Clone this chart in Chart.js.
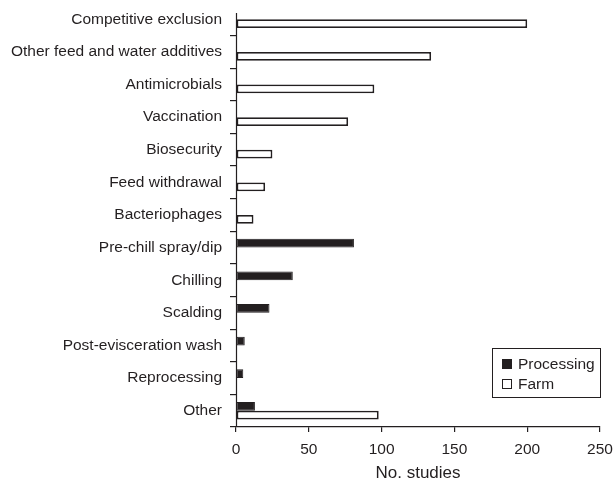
<!DOCTYPE html>
<html>
<head>
<meta charset="utf-8">
<script src="https://cdn.jsdelivr.net/npm/chart.js@4/dist/chart.umd.min.js"></script>
<style>
  html, body { margin: 0; padding: 0; background: #fff; }
  #wrap { width: 613px; height: 480px; }
</style>
</head>
<body>
<div id="wrap"><canvas id="c"></canvas></div>
<script>
var categories = [
  'Competitive exclusion', 'Other feed and water additives', 'Antimicrobials',
  'Vaccination', 'Biosecurity', 'Feed withdrawal', 'Bacteriophages',
  'Pre-chill spray/dip', 'Chilling', 'Scalding', 'Post-evisceration wash',
  'Reprocessing', 'Other'
];
var processing = [null, null, null, null, null, null, null, 81, 39, 23, 6, 5, 13];
var farm = [200, 134, 95, 77, 25, 20, 12, null, null, null, null, null, 98];
var xMin = 0, xMax = 250, xStep = 50;

var ink = '#231f20';
Chart.defaults.font.family = '"Liberation Sans", Arial, sans-serif';
Chart.defaults.color = ink;

// legend drawn inside the plot, bottom right, with a frame; also the shortened y axis line
var boxLegend = {
  id: 'boxLegend',
  afterDraw: function (chart) {
    var ctx = chart.ctx, area = chart.chartArea;
    ctx.save();
    ctx.strokeStyle = ink;
    ctx.lineWidth = 1.2;
    var ax = Math.round(area.left) + 0.5;
    ctx.beginPath();
    ctx.moveTo(ax, area.top + 10);
    ctx.lineTo(ax, area.bottom);
    ctx.stroke();

    ctx.lineWidth = 1;
    var w = 108, h = 49;
    var x = Math.round(area.right - w), y = Math.round(area.bottom - 30 - h);
    ctx.strokeRect(x + 0.5, y + 0.5, w, h);
    ctx.font = '15.5px "Liberation Sans", Arial, sans-serif';
    ctx.textBaseline = 'middle';
    chart.data.datasets.forEach(function (ds, i) {
      var cy = y + 16 + i * 20;
      ctx.fillStyle = ds.backgroundColor;
      ctx.fillRect(x + 10, cy - 5, 10, 10);
      ctx.strokeStyle = ink;
      ctx.strokeRect(x + 10.5, cy - 4.5, 9, 9);
      ctx.fillStyle = ink;
      ctx.fillText(ds.label, x + 26, cy + 1);
    });
    ctx.restore();
  }
};

new Chart(document.getElementById('c'), {
  type: 'bar',
  data: {
    labels: categories,
    datasets: [
      { label: 'Processing', data: processing, backgroundColor: ink, borderColor: ink, borderWidth: 1, borderSkipped: false },
      { label: 'Farm', data: farm, backgroundColor: '#ffffff', borderColor: ink, borderWidth: 1.8, borderSkipped: false }
    ]
  },
  options: {
    indexAxis: 'y',
    responsive: true,
    maintainAspectRatio: false,
    animation: false,
    layout: { padding: { top: 3, right: 13, left: 0, bottom: 0 } },
    datasets: { bar: { categoryPercentage: 0.54, barPercentage: 1.0 } },
    plugins: {
      legend: { display: false },
      tooltip: { enabled: false }
    },
    scales: {
      x: {
        min: xMin, max: xMax,
        ticks: { stepSize: xStep, font: { size: 15.5 }, padding: 8, color: ink },
        grid: { drawOnChartArea: false, tickLength: 5, color: ink, lineWidth: 1.2 },
        border: { color: ink, width: 1.2 },
        title: { display: true, text: 'No. studies', font: { size: 17, lineHeight: 1 }, padding: { top: 4, bottom: -2 }, color: ink },
        afterFit: function (s) {
          s.height = 53;
          s.paddingLeft = 0; s.paddingRight = 0;
        }
      },
      y: {
        ticks: { font: { size: 15.5 }, padding: 8, color: ink },
        grid: {
          drawOnChartArea: false, tickLength: 6, offset: true, lineWidth: 1.2,
          color: function (c) { return c.index === 0 ? 'rgba(0,0,0,0)' : ink; }
        },
        border: { display: false },
        afterFit: function (s) {
          s.width = 236;
          s.paddingTop = 0; s.paddingBottom = 0;
        }
      }
    }
  },
  plugins: [boxLegend]
});
</script>
</body>
</html>
